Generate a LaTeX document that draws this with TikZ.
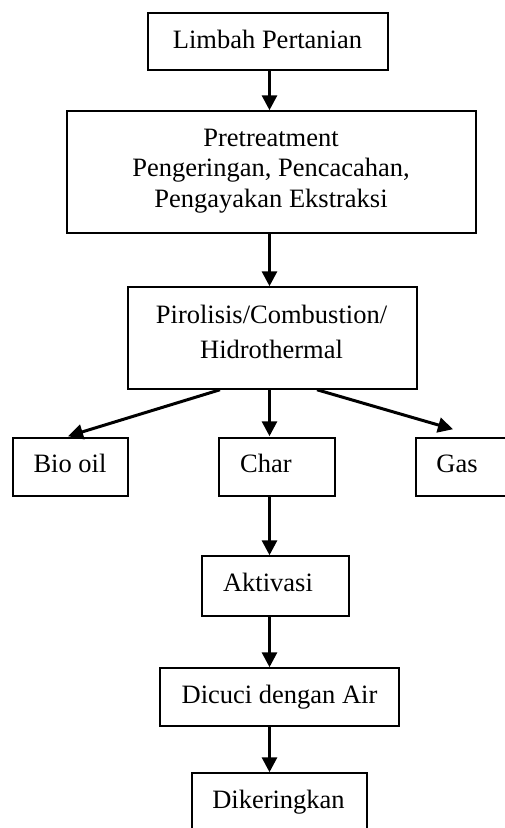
\documentclass[tikz,border=0pt]{standalone}
\usepackage{fontspec}
\setmainfont{Liberation Serif}
\usetikzlibrary{arrows.meta}
\begin{document}
\begin{tikzpicture}[x=1pt,y=-1pt,
  box/.style={draw=black,line width=1.5pt,rectangle,inner sep=0pt,minimum width=#1},
  txt/.style={anchor=base,inner sep=0pt,font=\fontsize{26.5}{30}\selectfont},
  arr/.style={line width=3pt,-{Triangle[width=15pt,length=15pt]}}]
\clip (0,0) rectangle (505,828);
\fill[white] (0,0) rectangle (505,828);
% boxes (centre positions, sizes in px)
\node[box=240pt,minimum height=57pt] (limbah) at (268,41.5) {};
\node[box=409pt,minimum height=122pt] (pre) at (271.5,172) {};
\node[box=289pt,minimum height=102pt] (pir) at (272.5,338) {};
\node[box=115pt,minimum height=58pt] (bio) at (70.5,467) {};
\node[box=116pt,minimum height=58pt] (char) at (277,467) {};
\node[box=130pt,minimum height=58pt] (gas) at (481,467) {};
\node[box=147pt,minimum height=60pt] (akt) at (275.5,586) {};
\node[box=239pt,minimum height=58pt] (dic) at (279.5,697) {};
\node[box=175pt,minimum height=80pt] (dik) at (279.5,813) {};
% texts
\node[txt] (tlimbah) at (267.5,48) {Limbah Pertanian};
\node[txt] (tpre1) at (271,146) {Pretreatment};
\node[txt] (tpre2) at (271,176.5) {Pengeringan, Pencacahan,};
\node[txt] (tpre3) at (271,207) {Pengayakan Ekstraksi};
\node[txt] (tpir1) at (271.5,323.5) {Pirolisis/Combustion/};
\node[txt] (tpir2) at (271.5,358) {Hidrothermal};
\node[txt] (tbio) at (70,472.5) {Bio oil};
\node[txt] (tchar) at (266,472.5) {Char};
\node[txt] (tgas) at (457,472) {Gas};
\node[txt] (takt) at (268,591) {Aktivasi};
\node[txt] (tdic) at (279.5,703) {Dicuci dengan Air};
\node[txt] (tdik) at (278.5,808) {Dikeringkan};
% connectors
\coordinate (pirL) at ([xshift=-52.5pt]pir.south);
\coordinate (pirR) at ([xshift=44.5pt]pir.south);
\coordinate (bioT) at ([xshift=-2.5pt,yshift=1pt]bio.north);
\coordinate (gasT) at ([xshift=-28pt,yshift=8pt]gas.north);
\draw[arr] (limbah.south -| 269.5,0) -- (pre.north -| 269.5,0);
\draw[arr] (pre.south -| 269.5,0) -- (pir.north -| 269.5,0);
\draw[arr] (pirL) -- (bioT);
\draw[arr] (pir.south -| 269.5,0) -- ([yshift=1pt]char.north -| 269.5,0);
\draw[arr] (pirR) -- (gasT);
\draw[arr] (char.south -| 269.5,0) -- (akt.north -| 269.5,0);
\draw[arr] (akt.south -| 269.5,0) -- (dic.north -| 269.5,0);
\draw[arr] (dic.south -| 269.5,0) -- (dik.north -| 269.5,0);
\end{tikzpicture}
\end{document}
